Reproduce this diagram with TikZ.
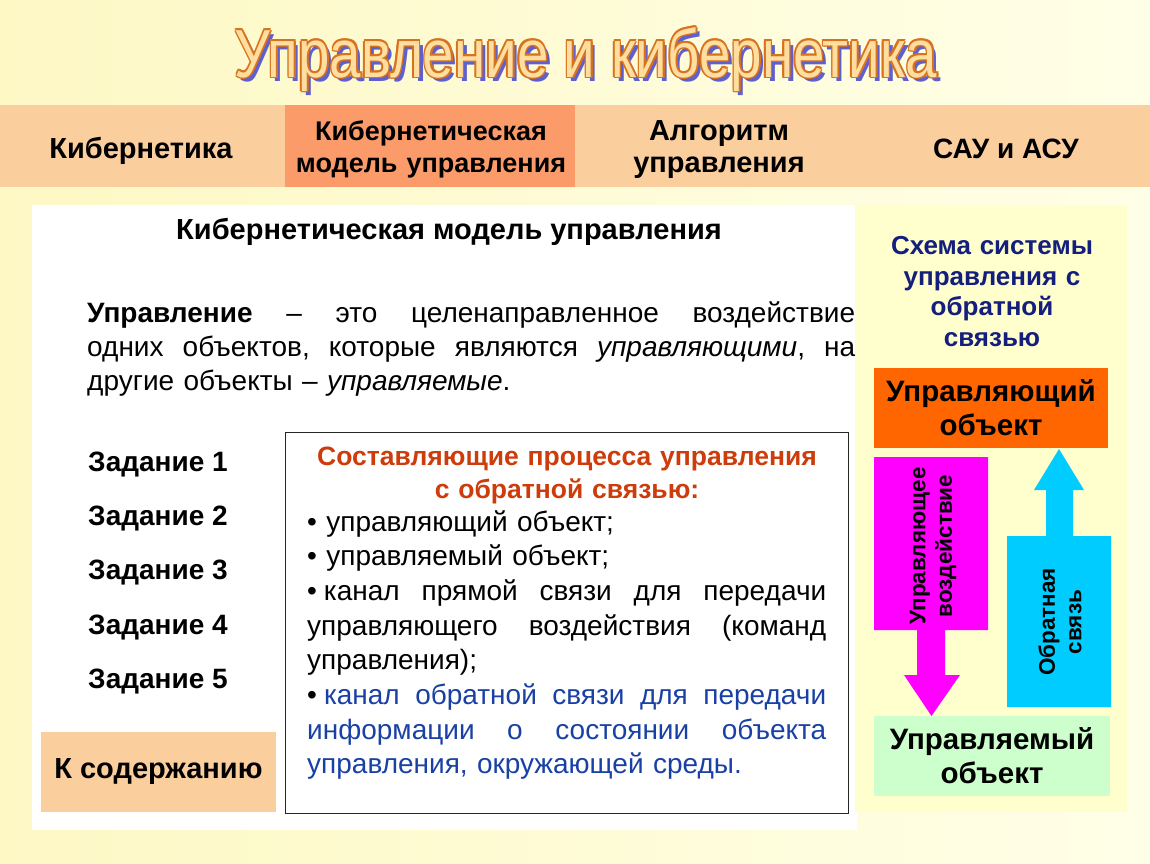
\documentclass[tikz,border=0pt]{standalone}
\usepackage{fontspec}
\setmainfont{Liberation Sans}
\newfontfamily\narrowfont[FakeStretch=0.83]{Liberation Sans}
\usetikzlibrary{calc}
\newcommand{\jline}[2]{\leavevmode\hbox to #1{\frenchspacing\spaceskip=0.25em plus 1fil\relax #2}}
\definecolor{bgA}{RGB}{253,248,196}
\definecolor{bgB}{RGB}{255,255,232}
\definecolor{tabc}{RGB}{251,206,158}
\definecolor{tabhl}{RGB}{251,155,105}
\definecolor{rpanel}{RGB}{255,255,206}
\definecolor{navy}{RGB}{20,30,125}
\definecolor{redor}{RGB}{205,60,10}
\definecolor{bluet}{RGB}{25,65,165}
\definecolor{ctrlc}{RGB}{255,102,0}
\definecolor{magc}{RGB}{255,0,255}
\definecolor{cyanc}{RGB}{0,204,255}
\definecolor{greenc}{RGB}{204,255,204}
\definecolor{titfill}{RGB}{255,222,160}
\definecolor{titline}{RGB}{215,115,30}
\definecolor{titshadow}{RGB}{95,95,205}
\tikzset{
  tabtxt/.style={font=\bfseries\fontsize{29bp}{32bp}\selectfont, align=center, inner sep=0pt, anchor=base},
  tabtxtm/.style={font=\bfseries\fontsize{27bp}{32bp}\selectfont, align=center, inner sep=0pt, anchor=base, text width=288bp},
  titfont/.style={font=\narrowfont\fontsize{68bp}{68bp}\selectfont, inner sep=0pt, anchor=base},
  zad/.style={font=\bfseries\fontsize{28bp}{32bp}\selectfont, inner sep=0pt, anchor=base},
  navytxt/.style={font=\bfseries\fontsize{26bp}{30.7bp}\selectfont, text=navy, align=center, inner sep=0pt, anchor=base, text width=260bp},
  objtxt/.style={font=\bfseries\fontsize{29.5bp}{34bp}\selectfont, align=center, inner sep=0pt, anchor=base, text width=234bp},
  rottxt/.style={font=\bfseries\fontsize{22.5bp}{26.5bp}\selectfont, align=center, inner sep=0pt, rotate=90},
}
\begin{document}
\begin{tikzpicture}[x=1bp,y=-1bp]
\useasboundingbox (0,0) rectangle (1150,864);
\shade[left color=bgA, right color=bgB] (0,0) rectangle (1150,864);
% title
\node[titfont, text=titshadow] (tshadow) at (590,81) {Управление и кибернетика};
\foreach \a [count=\i] in {0,45,...,315}
  \node[titfont, text=titline] (tline\i) at ($(586,77)+(\a:1.6)$) {Управление и кибернетика};
\node[titfont, text=titfill] (title) at (586,77) {Управление и кибернетика};
% top bar
\fill[tabc] (0,105) rectangle (1150,187);
\fill[tabhl] (285,105) rectangle (575,187);
\node[tabtxt] (tab1) at (141,158) {Кибернетика};
\node[tabtxtm] (tab2) at (431,140) {Кибернетическая\\модель управления};
\node[tabtxtm, font=\bfseries\fontsize{29bp}{32bp}\selectfont] (tab3) at (719,140) {Алгоритм\\управления};
\node[tabtxt, font=\bfseries\fontsize{28bp}{32bp}\selectfont] (tab4) at (1006,158) {САУ и АСУ};
% panels
\fill[white] (32,205) rectangle (857,830);
\fill[rpanel] (855,205) rectangle (1127,812);
% heading
\node[font=\bfseries\fontsize{29bp}{32bp}\selectfont, inner sep=0pt, anchor=base] (head) at (449,239) {Кибернетическая модель управления};
% paragraph
\node[font=\fontsize{28bp}{34bp}\selectfont, text width=768bp, align=left, inner sep=0pt, anchor=base west] (para) at (87,322)
 {\jline{768bp}{\textbf{Управление} – это целенаправленное воздействие}\\
  \jline{768bp}{одних объектов, которые являются \textit{управляющими}, на}\\
  другие объекты – \textit{управляемые}.};
% tasks
\node[zad] (z1) at (158,471) {Задание 1};
\node[zad] (z2) at (158,525) {Задание 2};
\node[zad] (z3) at (158,579) {Задание 3};
\node[zad] (z4) at (158,634) {Задание 4};
\node[zad] (z5) at (158,688) {Задание 5};
\node[fill=tabc, minimum width=235bp, minimum height=80bp, inner sep=0pt, font=\bfseries\fontsize{29bp}{32bp}\selectfont] (toc) at (158.5,772) {К содержанию};
% components box
\node[draw=black!85, line width=1bp, fill=white, minimum width=562bp, minimum height=381bp, inner sep=0pt] (cbox) at (567,622.5) {};
\node[font=\bfseries\fontsize{26.5bp}{33bp}\selectfont, text=redor, align=center, text width=540bp, inner sep=0pt, anchor=base] (ctitle) at (567,465) {Составляющие процесса управления\\с обратной связью:};
\node[font=\fontsize{28bp}{34.7bp}\selectfont, text width=519bp, align=left, inner sep=0pt, anchor=base west] (clist) at (307,531)
 {• управляющий объект;\\
  • управляемый объект;\\
  \jline{519bp}{•\hspace{0.25em}канал прямой связи для передачи}\\
  \jline{519bp}{управляющего воздействия (команд}\\
  управления);\\
  \jline{519bp}{•\hspace{0.25em}\textcolor{bluet}{канал обратной связи для передачи}}\\
  \jline{519bp}{\textcolor{bluet}{информации о состоянии объекта}}\\
  \textcolor{bluet}{управления, окружающей среды.}};
% right scheme
\node[navytxt] (stitle) at (992,254.5) {Схема системы\\управления с\\обратной\\связью};
\node[fill=ctrlc, minimum width=234bp, minimum height=80bp, inner sep=0pt] (ctrl) at (991,408) {};
\node[objtxt] (ctrltxt) at (991,401) {Управляющий\\объект};
\node[fill=greenc, minimum width=236bp, minimum height=80bp, inner sep=0pt] (plant) at (992,756) {};
\node[objtxt] (planttxt) at (992,749) {Управляемый\\объект};
\fill[magc] (874,457) -- (988,457) -- (988,630) -- (945,630) -- (945,675) -- (960,675)
  -- (931.5,716) -- (904,675) -- (917,675) -- (917,630) -- (874,630) -- cycle;
\fill[cyanc] (1007,707) -- (1007,536) -- (1046,536) -- (1046,490) -- (1034,490)
  -- (1059,449) -- (1084,490) -- (1073,490) -- (1073,536) -- (1111,536) -- (1111,707) -- cycle;
\node[rottxt] (magtxt) at (933,546) {Управляющее\\воздействие};
\node[rottxt] (cyantxt) at (1060,622) {Обратная\\связь};
\end{tikzpicture}
\end{document}
